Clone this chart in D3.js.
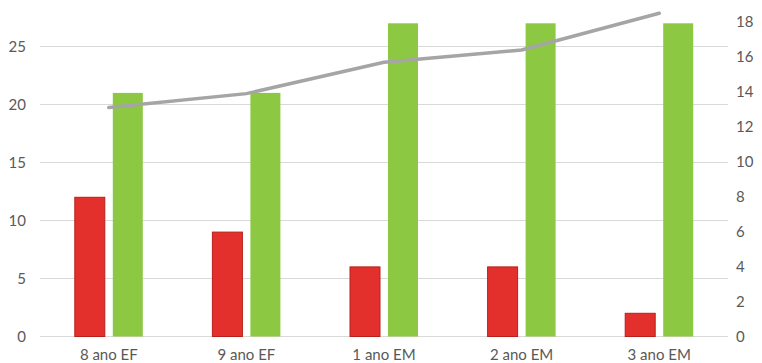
<!DOCTYPE html>
<html>
<head>
<meta charset="utf-8">
<script src="https://cdn.jsdelivr.net/npm/d3@7"></script>
<style>
  body { margin: 0; background: #fff; }
  svg text { font-family: Lato, "Open Sans", sans-serif; fill: #595959; }
</style>
</head>
<body>
<svg id="chart" width="762" height="363"></svg>
<script>
// data
var categories = ["8 ano EF", "9 ano EF", "1 ano EM", "2 ano EM", "3 ano EM"];
var redValues = [12, 9, 6, 6, 2];
var greenValues = [21, 21, 27, 27, 27];
var lineValues = [13.1, 13.9, 15.7, 16.4, 18.5];
var leftTicks = [0, 5, 10, 15, 20, 25];
var rightTicks = [0, 2, 4, 6, 8, 10, 12, 14, 16, 18];

var svg = d3.select("#chart");
var left = 40, right = 728, bottom = 336.5;

var x = d3.scaleBand().domain(categories).range([left, right]);
// left axis: 25 units over 290px
var yL = d3.scaleLinear().domain([0, 25]).range([bottom, 46.5]);
// right axis: 18 units over ~314px
var yR = d3.scaleLinear().domain([0, 18]).range([bottom, 22]);

// gridlines
svg.append("g")
    .selectAll("line")
    .data(leftTicks)
    .enter().append("line")
    .attr("x1", left).attr("x2", right)
    .attr("y1", function(d) { return yL(d); })
    .attr("y2", function(d) { return yL(d); })
    .attr("stroke", "#d9d9d9")
    .attr("stroke-width", 1);

// left axis labels
var gl = svg.append("g")
    .attr("transform", "translate(26,0)")
    .call(d3.axisLeft(yL).tickValues(leftTicks).tickSize(0).tickPadding(0));
gl.select(".domain").remove();
gl.selectAll("text").style("font-size", "15px").attr("fill", "#595959");

// right axis labels
var gr = svg.append("g")
    .attr("transform", "translate(736,0)")
    .call(d3.axisRight(yR).tickValues(rightTicks).tickSize(0).tickPadding(0));
gr.select(".domain").remove();
gr.selectAll("text").style("font-size", "15px").attr("fill", "#595959");

// category labels
var gx = svg.append("g")
    .attr("transform", "translate(0," + (bottom + 10) + ")")
    .call(d3.axisBottom(x).tickSize(0).tickPadding(3));
gx.select(".domain").remove();
gx.selectAll("text").style("font-size", "15px").attr("fill", "#595959");

var barW = 30, gap = 8;

svg.append("g")
    .selectAll("rect")
    .data(redValues)
    .enter().append("rect")
    .attr("x", function(d, i) { return x(categories[i]) + x.bandwidth() / 2 - gap / 2 - barW; })
    .attr("y", function(d) { return yL(d); })
    .attr("width", barW)
    .attr("height", function(d) { return bottom - yL(d); })
    .attr("fill", "#e3302c")
    .attr("stroke", "#b8201c")
    .attr("stroke-width", 1);

svg.append("g")
    .selectAll("rect")
    .data(greenValues)
    .enter().append("rect")
    .attr("x", function(d, i) { return x(categories[i]) + x.bandwidth() / 2 + gap / 2; })
    .attr("y", function(d) { return yL(d); })
    .attr("width", barW)
    .attr("height", function(d) { return bottom - yL(d); })
    .attr("fill", "#8dc843");

var line = d3.line()
    .x(function(d, i) { return x(categories[i]) + x.bandwidth() / 2; })
    .y(function(d) { return yR(d); });

svg.append("path")
    .datum(lineValues)
    .attr("d", line)
    .attr("fill", "none")
    .attr("stroke", "#a5a5a5")
    .attr("stroke-width", 3.5)
    .attr("stroke-linecap", "round");
</script>
</body>
</html>
